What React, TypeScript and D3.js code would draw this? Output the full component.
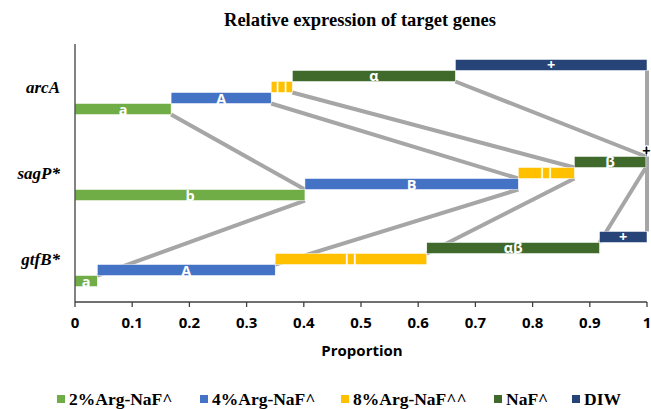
import React from "react";
import * as d3 from "d3";

const genes = ["arcA", "sagP*", "gtfB*"];
const seriesNames = ["2%Arg-NaF^", "4%Arg-NaF^", "8%Arg-NaF^^", "NaF^", "DIW"];
const seriesColors = ["#70ad47", "#4472c4", "#ffc000", "#3f6a2b", "#264478"];
const arcAValues = [0.168, 0.175, 0.037, 0.285, 0.335];
const sagPValues = [0.402, 0.373, 0.098, 0.125, 0.002];
const gtfBValues = [0.039, 0.311, 0.265, 0.302, 0.083];
const arcALabels = ["a", "A", "||", "α", "+"];
const sagPLabels = ["b", "B", "||", "β", "+"];
const gtfBLabels = ["a", "A", "||", "αβ", "+"];
const xTicks = [0, 0.1, 0.2, 0.3, 0.4, 0.5, 0.6, 0.7, 0.8, 0.9, 1];

const W = 651;
const H = 409;
const serif = "'Liberation Serif', 'Times New Roman', serif";
const sans = "'Open Sans', 'Noto Sans', sans-serif";

export default function App() {
  const x = d3.scaleLinear().domain([0, 1]).range([75, 647]);
  const y = d3.scaleBand<string>().domain(genes).range([44, 302]).padding(0);
  const bw = y.bandwidth();
  const h = (bw * 0.64) / 5;
  const values = [arcAValues, sagPValues, gtfBValues];
  const labels = [arcALabels, sagPLabels, gtfBLabels];

  const rows = genes.map((g, gi) => {
    const vals = values[gi];
    const cum = d3.cumsum(vals);
    const bottom = (y(g) as number) + bw / 2 + (5 * h) / 2;
    return vals.map((v, i) => {
      const x0 = i === 0 ? 0 : cum[i - 1];
      const x1 = Math.min(1, cum[i]);
      return {
        gene: g,
        i,
        x0,
        x1,
        yTop: bottom - (i + 1) * h,
        yBot: bottom - i * h,
        label: labels[gi][i],
      };
    });
  });

  const connectors: { x1: number; y1: number; x2: number; y2: number }[] = [];
  for (let gi = 0; gi < genes.length - 1; gi++) {
    for (let i = 0; i < 5; i++) {
      const a = rows[gi][i];
      const b = rows[gi + 1][i];
      connectors.push({ x1: x(a.x1), y1: a.yBot, x2: x(b.x1), y2: b.yTop });
    }
  }

  const legendX = [57, 200, 341, 494, 572];

  return (
    <svg width={W} height={H} style={{ position: "absolute", left: 0, top: 0, background: "#fff" }}>
      <text x={360} y={26} textAnchor="middle" fontFamily={serif} fontWeight="bold" fontSize={18.5} fill="#000">
        Relative expression of target genes
      </text>

      {connectors.map((c, k) => (
        <line key={"c" + k} x1={c.x1} y1={c.y1} x2={c.x2} y2={c.y2} stroke="#a6a6a6" strokeWidth={4} />
      ))}

      {rows.flat().map((r, k) => {
        const wpx = x(r.x1) - x(r.x0);
        return (
          <g key={"b" + k}>
            <rect
              x={x(r.x0)}
              y={r.yTop}
              width={Math.max(wpx, 1)}
              height={h}
              fill={seriesColors[r.i]}
              stroke="#ffffff"
              strokeWidth={0.5}
            />
            <text
              x={(x(r.x0) + x(r.x1)) / 2}
              y={r.yTop + h / 2 + 5.5}
              textAnchor="middle"
              fontFamily={sans}
              fontWeight="bold"
              fontSize={14.5}
              fill={wpx < 5 ? "#000" : "#fff"}
            >
              {r.label}
            </text>
          </g>
        );
      })}

      <line x1={75} y1={44} x2={75} y2={302} stroke="#404040" strokeWidth={1.3} />
      <line x1={75} y1={302} x2={647} y2={302} stroke="#404040" strokeWidth={1.3} />
      {xTicks.map((t) => (
        <g key={"t" + t}>
          <line x1={x(t)} y1={302} x2={x(t)} y2={307} stroke="#404040" strokeWidth={1.3} />
          <text x={x(t)} y={328} textAnchor="middle" fontFamily={sans} fontWeight="bold" fontSize={15} fill="#000">
            {String(t)}
          </text>
        </g>
      ))}
      <text x={362} y={356} textAnchor="middle" fontFamily={sans} fontWeight="bold" fontSize={15} fill="#000">
        Proportion
      </text>

      {genes.map((g) => (
        <text
          key={"g" + g}
          x={60}
          y={(y(g) as number) + bw / 2 + 6}
          textAnchor="end"
          fontFamily={serif}
          fontWeight="bold"
          fontStyle="italic"
          fontSize={17}
          fill="#000"
        >
          {g}
        </text>
      ))}

      {seriesNames.map((s, i) => (
        <g key={"l" + i}>
          <rect x={legendX[i]} y={395} width={8} height={8} fill={seriesColors[i]} />
          <text x={legendX[i] + 12} y={405} fontFamily={serif} fontWeight="bold" fontSize={17.5} fill="#000">
            {s}
          </text>
        </g>
      ))}
    </svg>
  );
}
